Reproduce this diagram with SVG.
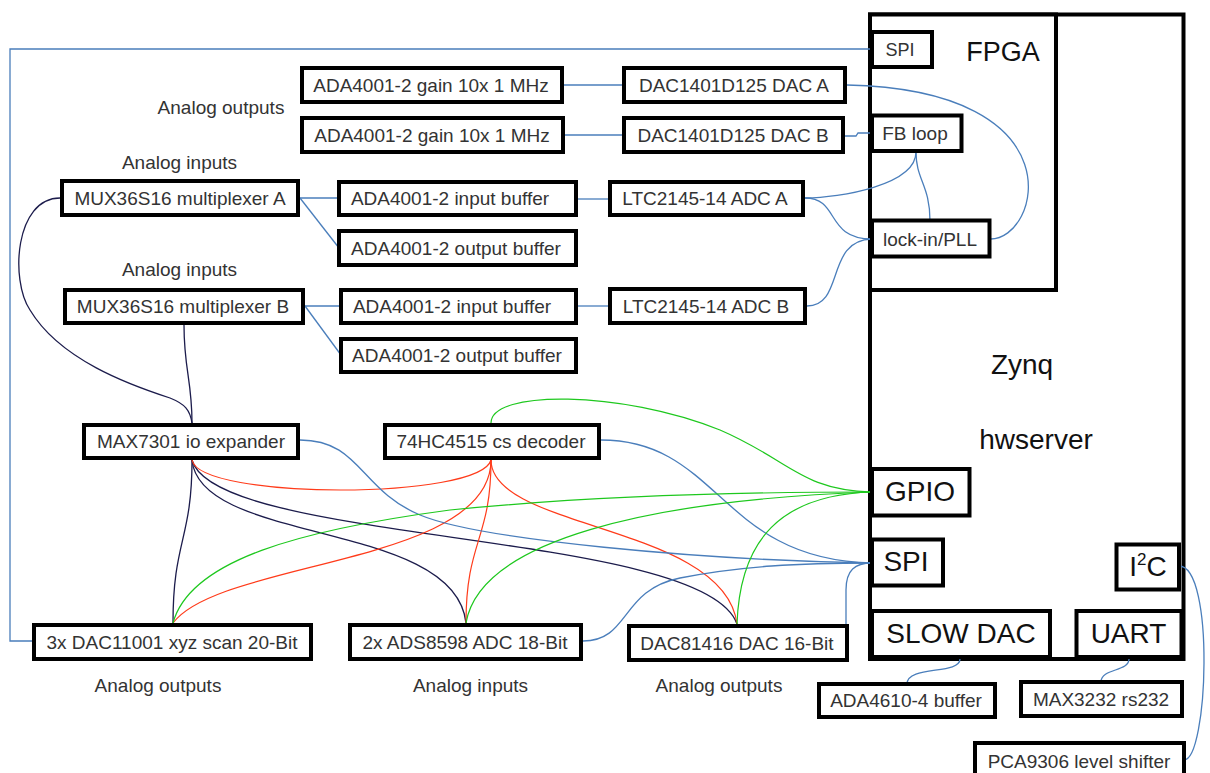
<svg xmlns="http://www.w3.org/2000/svg" width="1210" height="773" viewBox="0 0 1210 773">
<style>
.n{fill:#fff;stroke:#000;stroke-width:4}
.t{font-family:"Liberation Sans",Arial,sans-serif;font-size:19px;fill:#333;text-anchor:middle}
.z{font-family:"Liberation Sans",Arial,sans-serif;font-size:28px;fill:#111;text-anchor:middle}
.b{fill:none;stroke:#4a7ebb;stroke-width:1.3}
.k{fill:none;stroke:#1c1c4c;stroke-width:1.3}
.r{fill:none;stroke:#ff3b1a;stroke-width:1.2}
.g{fill:none;stroke:#1ec81e;stroke-width:1.2}
</style>
<rect width="1210" height="773" fill="#fff"/>
<g id="zynq">
<rect class="n" x="870" y="14.5" width="313.5" height="644.5"/>
<text class="z" x="1022" y="374">Zynq</text>
<text class="z" x="1036" y="449">hwserver</text>
</g>
<g id="fpga">
<rect class="n" x="870" y="14.5" width="186" height="275.5"/>
<text class="z" x="1003" y="61" style="font-size:27px">FPGA</text>
</g>
<g id="connectors">
<path class="b" d="M872,49 H10 V641 H34"/>
<path class="b" d="M564,85 H624"/>
<path class="b" d="M565,135 H624"/>
<path class="b" d="M845,136 H856 L858,133 H872"/>
<path class="b" d="M847,85 C1080,90 1040,240 990,239"/>
<path class="b" d="M916,152 C916,185 840,198 805,198"/>
<path class="b" d="M916,152 C916,180 930,185 930,221"/>
<path class="b" d="M805,198 C840,198 825,239 872,239"/>
<path class="b" d="M807,306 C845,306 825,240 872,239"/>
<path class="b" d="M300,198 H339"/>
<path class="b" d="M300,198 L339,248"/>
<path class="b" d="M305,306 H341"/>
<path class="b" d="M305,306 L341,355"/>
<path class="b" d="M578,199 H610"/>
<path class="b" d="M578,306 H610"/>
<path class="k" d="M60,198 C15,198 10,280 30,310 C60,360 130,385 170,398 C185,404 190,410 192,423"/>
<path class="k" d="M184,325 C184,370 192,380 192,423"/>
<path class="k" d="M192,460 C192,540 173,540 173,623"/>
<path class="k" d="M192,460 C200,545 455,520 466,623"/>
<path class="k" d="M192,460 C215,545 705,530 737,624"/>
<path class="r" d="M192,460 C200,500 480,500 491,460"/>
<path class="r" d="M491,460 C491,565 220,560 173,623"/>
<path class="r" d="M491,460 C491,540 466,540 466,623"/>
<path class="r" d="M491,460 C491,530 725,525 737,624"/>
<path class="b" d="M300,440 C360,440 360,490 420,515 C480,540 700,560 872,563"/>
<path class="b" d="M601,440 C720,440 720,560 872,563"/>
<path class="b" d="M583,641 C630,641 620,590 680,578 C740,566 800,563 872,563"/>
<path class="b" d="M846,642 V590 C846,570 855,563 872,563"/>
<path class="g" d="M491,423 C491,390 620,390 720,430 C790,460 800,490 872,492"/>
<path class="g" d="M173,623 C190,560 300,530 450,510 C600,495 750,492 872,492"/>
<path class="g" d="M466,623 C480,540 650,500 872,492"/>
<path class="g" d="M737,624 C740,540 780,495 872,492"/>
<path class="b" d="M1179,566 C1215,566 1208,760 1184,760"/>
<path class="b" d="M960,659 C960,675 907,665 907,684"/>
<path class="b" d="M1129,659 C1129,672 1101,668 1101,682"/>
</g>
<g id="spi_fpga"><rect class="n" x="872" y="32" width="60" height="35"/><text class="t" x="900" y="56" style="font-size:18px">SPI</text></g>
<g id="fb_loop"><rect class="n" x="872" y="115.5" width="89.5" height="35.5"/><text class="t" x="915" y="140">FB loop</text></g>
<g id="lockin"><rect class="n" x="872" y="220.5" width="117.5" height="36"/><text class="t" x="930" y="246">lock-in/PLL</text></g>
<g id="gpio"><rect class="n" x="872" y="469" width="97.5" height="46.5"/><text class="z" x="920" y="501">GPIO</text></g>
<g id="spi_zynq"><rect class="n" x="872" y="539.5" width="71" height="46"/><text class="z" x="906" y="571">SPI</text></g>
<g id="i2c"><rect class="n" x="1116.5" y="544.5" width="62.5" height="45"/><text class="z" x="1148" y="576">I<tspan dy="-11" style="font-size:17px">2</tspan><tspan dy="11">C</tspan></text></g>
<g id="slow_dac"><rect class="n" x="872" y="611" width="178" height="46"/><text class="z" x="961" y="643">SLOW DAC</text></g>
<g id="uart"><rect class="n" x="1076.5" y="611" width="105" height="46"/><text class="z" x="1128.5" y="643">UART</text></g>
<g id="gainA"><rect class="n" x="302" y="68" width="260" height="34"/><text class="t" x="431" y="92">ADA4001-2 gain 10x 1 MHz</text></g>
<g id="gainB"><rect class="n" x="302" y="118" width="261" height="34"/><text class="t" x="432" y="142">ADA4001-2 gain 10x 1 MHz</text></g>
<g id="dacA"><rect class="n" x="624" y="68" width="221" height="34"/><text class="t" x="734" y="92">DAC1401D125 DAC A</text></g>
<g id="dacB"><rect class="n" x="624" y="118" width="219" height="34"/><text class="t" x="733" y="142">DAC1401D125 DAC B</text></g>
<g id="muxA"><rect class="n" x="62" y="181" width="236" height="34"/><text class="t" x="180" y="205">MUX36S16 multiplexer A</text></g>
<g id="inbufA"><rect class="n" x="339" y="182" width="237" height="33"/><text class="t" x="450" y="205">ADA4001-2 input buffer</text></g>
<g id="outbufA"><rect class="n" x="339" y="231" width="237" height="34"/><text class="t" x="456" y="255">ADA4001-2 output buffer</text></g>
<g id="ltcA"><rect class="n" x="610" y="182" width="193" height="33"/><text class="t" x="705" y="205">LTC2145-14 ADC A</text></g>
<g id="muxB"><rect class="n" x="65" y="290" width="238" height="33"/><text class="t" x="183" y="313">MUX36S16 multiplexer B</text></g>
<g id="inbufB"><rect class="n" x="341" y="290" width="235" height="33"/><text class="t" x="452" y="313">ADA4001-2 input buffer</text></g>
<g id="outbufB"><rect class="n" x="341" y="339" width="235" height="33"/><text class="t" x="457" y="362">ADA4001-2 output buffer</text></g>
<g id="ltcB"><rect class="n" x="610" y="289" width="195" height="34"/><text class="t" x="706" y="313">LTC2145-14 ADC B</text></g>
<g id="max7301"><rect class="n" x="84" y="425" width="214" height="33"/><text class="t" x="191" y="448">MAX7301 io expander</text></g>
<g id="decoder"><rect class="n" x="385" y="425" width="214" height="33"/><text class="t" x="491" y="448">74HC4515 cs decoder</text></g>
<g id="dac11001"><rect class="n" x="34" y="625" width="277" height="34"/><text class="t" x="172" y="649">3x DAC11001 xyz scan 20-Bit</text></g>
<g id="ads8598"><rect class="n" x="350" y="625" width="231" height="34"/><text class="t" x="465" y="649">2x ADS8598 ADC 18-Bit</text></g>
<g id="dac81416"><rect class="n" x="629" y="626" width="218" height="34"/><text class="t" x="737" y="650">DAC81416 DAC 16-Bit</text></g>
<g id="ada4610"><rect class="n" x="819" y="684" width="176" height="33"/><text class="t" x="906" y="707">ADA4610-4 buffer</text></g>
<g id="max3232"><rect class="n" x="1021" y="682" width="161" height="34"/><text class="t" x="1101" y="706">MAX3232 rs232</text></g>
<g id="pca9306"><rect class="n" x="975" y="743" width="209" height="40"/><text class="t" x="1079" y="768">PCA9306 level shifter</text></g>
<g id="labels">
<text class="t" x="221" y="114">Analog outputs</text>
<text class="t" x="179.5" y="169">Analog inputs</text>
<text class="t" x="179.5" y="276">Analog inputs</text>
<text class="t" x="158" y="692">Analog outputs</text>
<text class="t" x="470.5" y="692">Analog inputs</text>
<text class="t" x="719" y="692">Analog outputs</text>
</g>
</svg>
